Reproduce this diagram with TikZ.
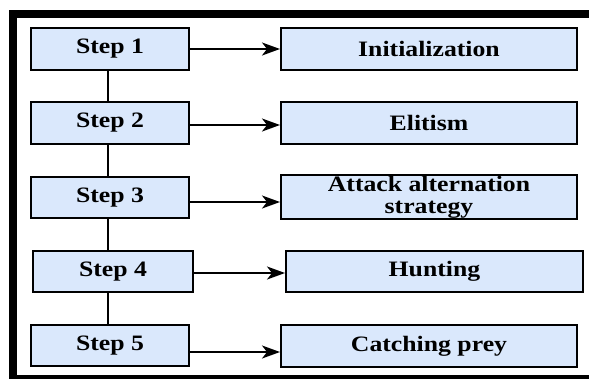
\documentclass[tikz,border=0pt]{standalone}
\usepackage{fontspec}
\setmainfont[FakeStretch=1.17]{Liberation Serif}
\usepackage{xcolor}
\usetikzlibrary{arrows.meta}
\definecolor{boxblue}{HTML}{DAE8FC}

\tikzset{
  stepbox/.style={draw, line width=2pt, fill=boxblue, inner sep=0pt,
    font=\fontsize{22}{22}\selectfont\bfseries, align=center},
  link/.style={line width=1.7pt},
  flow/.style={line width=1.7pt, -{Stealth[length=18pt,width=13pt,inset=5pt]}}
}

\begin{document}
\begin{tikzpicture}[x=1pt,y=-1pt]
        \useasboundingbox (0,0) rectangle (589,378);
        \clip (0,0) rectangle (589,378);
        \draw[line width=7.5pt] (12.8,13.9) rectangle (600,378.8);
        % steps
        \node[stepbox, minimum width=158pt, minimum height=42pt] (s1) at (110,49) {Step 1};
        \node[stepbox, minimum width=158pt, minimum height=42pt] (s2) at (110,123) {Step 2};
        \node[stepbox, minimum width=158pt, minimum height=41pt] (s3) at (110,197.5) {Step 3};
        \node[stepbox, minimum width=160pt, minimum height=41pt] (s4) at (113,271.5) {Step 4};
        \node[stepbox, minimum width=158pt, minimum height=41pt] (s5) at (110,345.5) {Step 5};
        % phases
        \node[stepbox, minimum width=296pt, minimum height=42pt] (p1) at (429,49) {Initialization};
        \node[stepbox, minimum width=296pt, minimum height=42pt] (p2) at (429,123) {Elitism};
        \node[stepbox, minimum width=296pt, minimum height=44pt] (p3) at (429,197) {Attack alternation\\strategy};
        \node[stepbox, minimum width=297pt, minimum height=41pt] (p4) at (434.5,271.5) {Hunting};
        \node[stepbox, minimum width=296pt, minimum height=42pt] (p5) at (429,346) {Catching prey};
        % chain
        \draw[link] ([xshift=-2pt]s1.south) -- ([xshift=-2pt]s2.north);
        \draw[link] ([xshift=-2pt]s2.south) -- ([xshift=-2pt]s3.north);
        \draw[link] ([xshift=-2pt]s3.south) -- ([xshift=-2pt]s3.south |- s4.north);
        \draw[link] ([xshift=-2pt]s5.north |- s4.south) -- ([xshift=-2pt]s5.north);
        % arrows
        \draw[flow] (s1.east) -- (p1.west);
        \draw[flow] ([yshift=-2pt]s2.east) -- ([yshift=-2pt]s2.east -| p2.west);
        \draw[flow] ([yshift=-4.5pt]s3.east) -- ([yshift=-4.5pt]s3.east -| p3.west);
        \draw[flow] ([yshift=-1.5pt]s4.east) -- ([yshift=-1.5pt]s4.east -| p4.west);
        \draw[flow] ([yshift=-6.5pt]s5.east) -- ([yshift=-6.5pt]s5.east -| p5.west);
    \end{tikzpicture}
\end{document}
